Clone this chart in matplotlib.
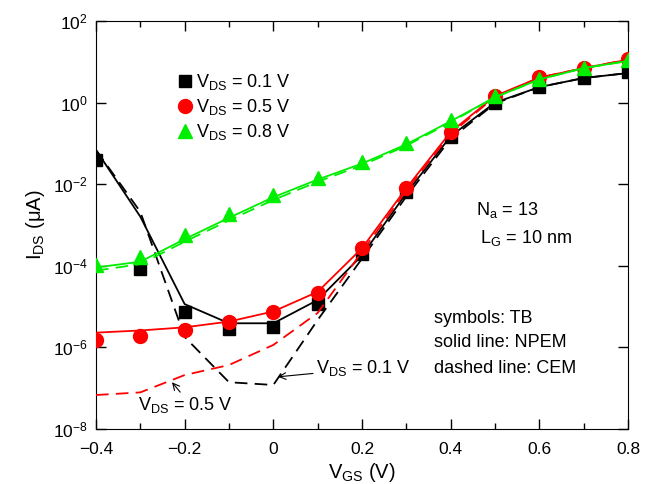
import matplotlib
matplotlib.use("Agg")
import matplotlib.pyplot as plt
import matplotlib.ticker as mticker
from matplotlib.lines import Line2D

plt.rcParams['font.family'] = ['Liberation Sans', 'DejaVu Sans']
plt.rcParams['mathtext.fontset'] = 'custom'
plt.rcParams['mathtext.rm'] = 'Liberation Sans'
plt.rcParams['mathtext.it'] = 'Liberation Sans'
plt.rcParams['mathtext.default'] = 'regular'

vgs = [-0.4, -0.3, -0.2, -0.1, 0.0, 0.1, 0.2, 0.3, 0.4, 0.5, 0.6, 0.7, 0.8]

# Symbols: TB
tb_01 = [0.039, 8.2e-5, 7.4e-6, 2.9e-6, 3.1e-6, 1.15e-5, 1.9e-4, 6.3e-3, 0.146, 1.0, 2.45, 4.1, 5.5]
tb_05 = [1.5e-6, 1.9e-6, 2.6e-6, 4.1e-6, 7.2e-6, 2.1e-5, 2.7e-4, 8.0e-3, 0.187, 1.45, 4.2, 7.2, 11.7]
tb_08 = [1.05e-4, 1.6e-4, 5.7e-4, 1.86e-3, 5.4e-3, 0.014, 0.0355, 0.10, 0.375, 1.45, 3.7, 7.2, 11.0]

# Solid lines: NPEM
npem_01 = [0.069, 1.6e-3, 1.15e-5, 3.9e-6, 3.9e-6, 1.45e-5, 1.8e-4, 6.0e-3, 0.15, 1.0, 2.4, 4.0, 5.3]
npem_05 = [2.3e-6, 2.6e-6, 3.1e-6, 4.3e-6, 7.6e-6, 2.3e-5, 2.7e-4, 8.0e-3, 0.19, 1.45, 4.1, 7.0, 11.3]
npem_08 = [9.1e-5, 1.26e-4, 4.5e-4, 1.5e-3, 4.8e-3, 0.013, 0.032, 0.095, 0.35, 1.35, 3.7, 7.0, 10.5]

# Dashed lines: CEM
cem_01 = [0.069, 2.1e-3, 1.8e-6, 1.4e-7, 1.2e-7, 4.7e-6, 1.5e-4, 5.0e-3, 0.13, 0.95, 2.4, 4.0, 5.3]
cem_05 = [6.8e-8, 7.9e-8, 2.1e-7, 3.7e-7, 1.15e-6, 7.0e-6, 2.2e-4, 7.0e-3, 0.17, 1.4, 4.1, 7.0, 11.3]
cem_08 = [7.6e-5, 1.1e-4, 3.9e-4, 1.3e-3, 4.1e-3, 0.0115, 0.029, 0.088, 0.33, 1.35, 3.7, 7.0, 10.5]

x_ticks = [-0.4, -0.2, 0.0, 0.2, 0.4, 0.6, 0.8]
x_labels = ['\u22120.4', '\u22120.2', '0', '0.2', '0.4', '0.6', '0.8']
y_ticks = [1e-8, 1e-6, 1e-4, 1e-2, 1e0, 1e2]
y_labels = [r'$10^{-8}$', r'$10^{-6}$', r'$10^{-4}$', r'$10^{-2}$', r'$10^{0}$', r'$10^{2}$']

fig = plt.figure(figsize=(6.47, 4.84), dpi=100)
ax = fig.add_axes([96/647, 1-429/484, (628-96)/647, (429-21)/484])

black, red, green = 'black', '#ff0000', '#00ee00'
dash = (0, (7, 4))

ax.plot(vgs, npem_01, color=black, lw=1.3, zorder=3)
ax.plot(vgs, cem_01, color=black, lw=1.3, ls=dash, zorder=3)
ax.plot(vgs, tb_01, ls='none', marker='s', ms=8.5, color=black, zorder=4)

ax.plot(vgs, npem_05, color=red, lw=1.3, zorder=5)
ax.plot(vgs, cem_05, color=red, lw=1.3, ls=dash, zorder=5)
ax.plot(vgs, tb_05, ls='none', marker='o', ms=10, color=red, zorder=6)

ax.plot(vgs, npem_08, color=green, lw=1.3, zorder=7)
ax.plot(vgs, cem_08, color=green, lw=1.3, ls=dash, zorder=7)
ax.plot(vgs, tb_08, ls='none', marker='^', ms=10, color=green, zorder=8)

ax.set_yscale('log')
ax.set_xlim(-0.4, 0.8)
ax.set_ylim(1e-8, 1e2)
ax.yaxis.set_major_locator(mticker.FixedLocator(y_ticks))
ax.yaxis.set_minor_locator(mticker.NullLocator())
ax.set_yticks(y_ticks)
ax.set_yticklabels(y_labels)
ax.set_xticks(x_ticks)
ax.set_xticklabels(x_labels)
ax.xaxis.set_minor_locator(mticker.FixedLocator([-0.3, -0.1, 0.1, 0.3, 0.5, 0.7]))
ax.tick_params(which='both', direction='in', top=True, right=True, labelsize=12.5)
ax.tick_params(which='major', length=7, width=1)
ax.tick_params(which='minor', length=4, width=1)
ax.tick_params(axis='x', pad=9)
ax.tick_params(axis='y', pad=6)

ax.set_xlabel(r'V$_{\rm GS}$ (V)', fontsize=14.5, labelpad=3)
ax.set_ylabel(r'I$_{\rm DS}$ ($\mu$A)', fontsize=14.5, labelpad=4)

# legend
handles = [Line2D([], [], ls='none', marker='s', ms=8.5, color=black),
           Line2D([], [], ls='none', marker='o', ms=10, color=red),
           Line2D([], [], ls='none', marker='^', ms=10, color=green)]
labels = [r'V$_{\rm DS}$ = 0.1 V', r'V$_{\rm DS}$ = 0.5 V', r'V$_{\rm DS}$ = 0.8 V']
ax.legend(handles, labels, loc='upper left', bbox_to_anchor=(0.150, 0.875), frameon=False,
          fontsize=13, handletextpad=0.1, labelspacing=0.28, handlelength=1.0,
          borderaxespad=0, borderpad=0)

ax.text(0.457, 2.3e-3, r'N$_{\rm a}$ = 13', fontsize=13, ha='left', va='center')
ax.text(0.466, 4.8e-4, r'L$_{\rm G}$ = 10 nm', fontsize=13, ha='left', va='center')
ax.text(0.362, 5.2e-6, 'symbols: TB', fontsize=13, ha='left', va='center')
ax.text(0.362, 1.3e-6, 'solid line: NPEM', fontsize=13, ha='left', va='center')
ax.text(0.362, 3.0e-7, 'dashed line: CEM', fontsize=13, ha='left', va='center')

arrow = dict(arrowstyle='->', color='black', lw=0.8, shrinkA=0, shrinkB=0, mutation_scale=12)
ax.annotate('', xy=(0.0105, 1.9e-7), xytext=(0.0895, 2.3e-7), arrowprops=arrow)
ax.text(0.096, 3.1e-7, r'V$_{\rm DS}$ = 0.1 V', fontsize=13, ha='left', va='center')
ax.annotate('', xy=(-0.2286, 1.4e-7), xytext=(-0.21, 8.0e-8), arrowprops=arrow)
ax.text(-0.305, 3.9e-8, r'V$_{\rm DS}$ = 0.5 V', fontsize=13, ha='left', va='center')

fig.savefig('out.png', dpi=100)
